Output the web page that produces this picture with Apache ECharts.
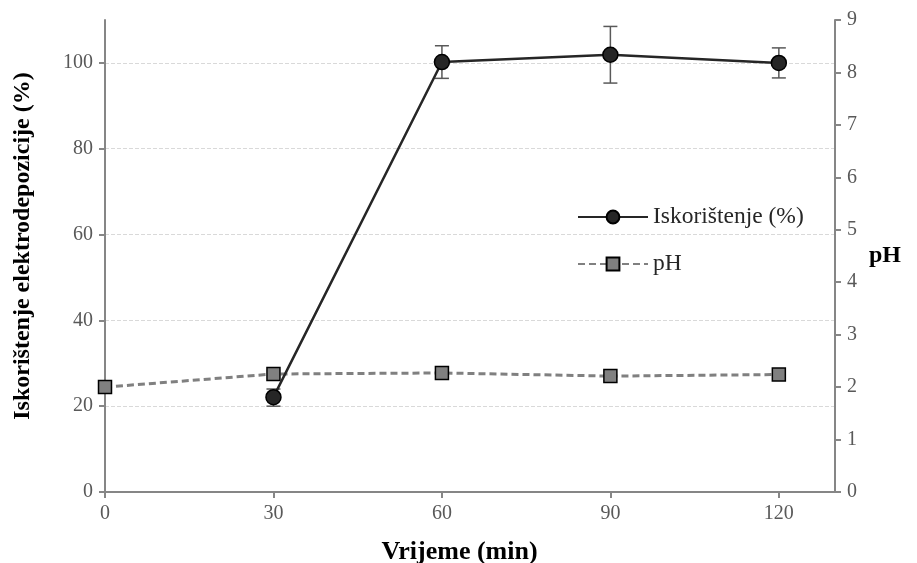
<!DOCTYPE html>
<html>
<head>
<meta charset="utf-8">
<script src="https://cdn.jsdelivr.net/npm/echarts@6/dist/echarts.min.js"></script>
<style>
  html, body { margin: 0; padding: 0; background: #fff; }
</style>
</head>
<body>
<div id="chart" style="width: 917px; height: 563px"></div>
<script>
// vrijeme (min)
var timeYield = [30, 60, 90, 120];
var yieldValues = [22.1, 100.2, 101.9, 100.0];
var yieldLow = [20.0, 96.4, 95.3, 96.5];
var yieldHigh = [24.0, 104.0, 108.5, 103.5];

var timePh = [0, 30, 60, 90, 120];
var phValues = [2.0, 2.25, 2.27, 2.21, 2.24];

var xTicks = [0, 30, 60, 90, 120];
var yTicks = [0, 20, 40, 60, 80, 100];

var font = "'Liberation Serif', 'Times New Roman', serif";

var yieldData = [];
for (var i = 0; i < timeYield.length; i++) {
  yieldData.push([timeYield[i], yieldValues[i]]);
}
var phData = [];
for (var j = 0; j < timePh.length; j++) {
  phData.push([timePh[j], phValues[j]]);
}
var errData = [];
for (var k = 0; k < timeYield.length; k++) {
  errData.push([timeYield[k], yieldLow[k], yieldHigh[k]]);
}

var myChart = echarts.init(document.getElementById("chart"));
var option = {
  animation: false,
  grid: { left: 105, right: 82, top: 20, bottom: 71, outerBoundsMode: "none", containLabel: false },
  legend: {
    orient: "vertical",
    left: 572,
    top: 200,
    itemWidth: 70,
    itemHeight: 16,
    itemGap: 23,
    textStyle: { fontFamily: font, fontSize: 23.5, color: "#262626" },
    data: ["Iskorištenje (%)", "pH"]
  },
  xAxis: {
    type: "value",
    min: 0,
    max: 130,
    interval: 30,
    name: "Vrijeme (min)",
    nameLocation: "middle",
    nameGap: 47,
    nameTextStyle: {
      fontFamily: font, fontSize: 26, fontWeight: "bold", color: "#000",
      padding: [0, 21, 0, 0]
    },
    axisLine: { lineStyle: { color: "#868686", width: 2 } },
    axisTick: { show: true, length: 6, customValues: xTicks, lineStyle: { color: "#868686", width: 2 } },
    axisLabel: {
      fontFamily: font, fontSize: 20, color: "#595959", margin: 12,
      customValues: xTicks
    },
    splitLine: { show: false }
  },
  yAxis: [
    {
      type: "value",
      min: 0,
      max: 110,
      interval: 20,
      name: "Iskorištenje elektrodepozicije (%)",
      nameLocation: "middle",
      nameGap: 70,
      nameTextStyle: {
        fontFamily: font, fontSize: 24, fontWeight: "bold", color: "#000",
        padding: [0, 0, 0, 20]
      },
      axisLine: { show: true, lineStyle: { color: "#868686", width: 2 } },
      axisTick: { show: true, length: 6, customValues: yTicks, lineStyle: { color: "#868686", width: 2 } },
      axisLabel: {
        fontFamily: font, fontSize: 20, color: "#595959", margin: 12,
        customValues: yTicks
      },
      splitLine: { show: true, lineStyle: { color: "#d9d9d9", type: "dashed", width: 1 } }
    },
    {
      type: "value",
      min: 0,
      max: 9,
      interval: 1,
      name: "pH",
      nameLocation: "middle",
      nameGap: 34,
      nameRotate: 0,
      nameTextStyle: { fontFamily: font, fontSize: 24, fontWeight: "bold", color: "#000" },
      axisLine: { show: true, lineStyle: { color: "#868686", width: 2 } },
      axisTick: { show: true, length: 6, lineStyle: { color: "#868686", width: 2 } },
      axisLabel: { fontFamily: font, fontSize: 20, color: "#595959", margin: 12 },
      splitLine: { show: false }
    }
  ],
  series: [
    {
      name: "pH",
      type: "line",
      yAxisIndex: 1,
      data: phData,
      symbol: "rect",
      symbolSize: 13,
      z: 3,
      lineStyle: { color: "#808080", width: 3, type: [7, 4] },
      itemStyle: { color: "#808080", borderColor: "#000", borderWidth: 1.5 }
    },
    {
      name: "Iskorištenje (%)",
      type: "line",
      yAxisIndex: 0,
      data: yieldData,
      symbol: "circle",
      symbolSize: 15,
      z: 4,
      lineStyle: { color: "#262626", width: 2.5 },
      itemStyle: { color: "#262626", borderColor: "#000", borderWidth: 1.5 }
    },
    {
      name: "err",
      type: "custom",
      yAxisIndex: 0,
      data: errData,
      z: 2,
      renderItem: function (params, api) {
        var x = api.value(0);
        var lo = api.coord([x, api.value(1)]);
        var hi = api.coord([x, api.value(2)]);
        var w = 7;
        var st = { stroke: "#595959", lineWidth: 1.5 };
        return {
          type: "group",
          children: [
            { type: "line", shape: { x1: lo[0], y1: lo[1], x2: hi[0], y2: hi[1] }, style: st },
            { type: "line", shape: { x1: lo[0] - w, y1: lo[1], x2: lo[0] + w, y2: lo[1] }, style: st },
            { type: "line", shape: { x1: hi[0] - w, y1: hi[1], x2: hi[0] + w, y2: hi[1] }, style: st }
          ]
        };
      }
    }
  ]
};
myChart.setOption(option);
</script>
</body>
</html>
